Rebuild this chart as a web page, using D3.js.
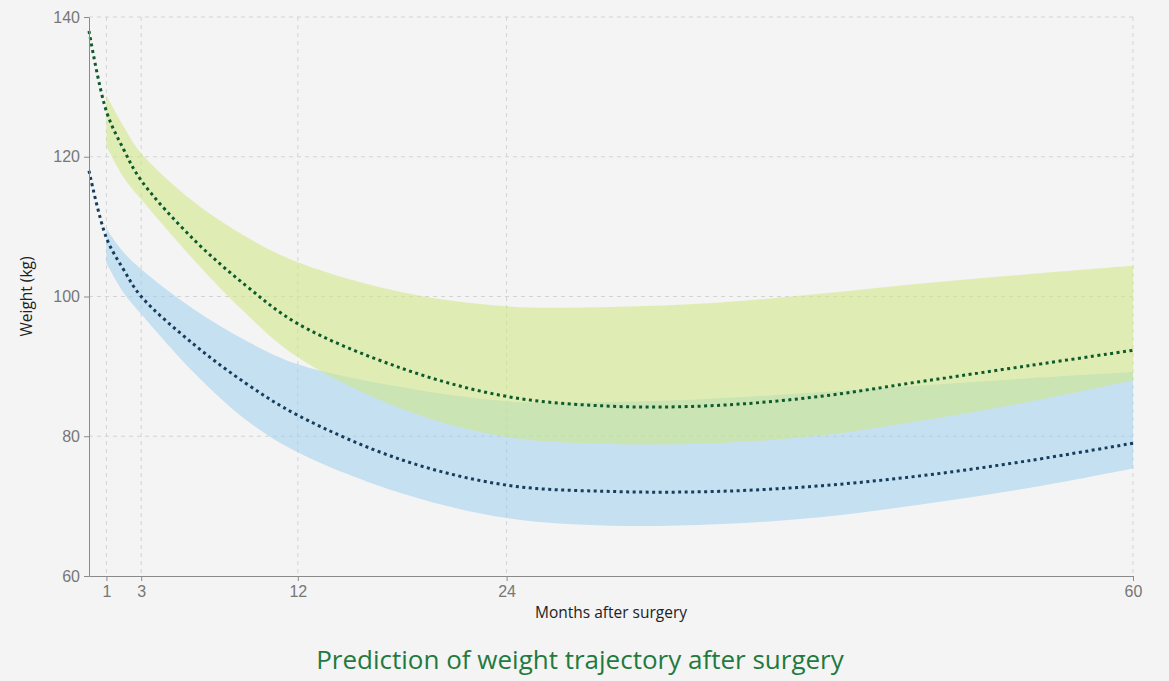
<!DOCTYPE html>
<html>
<head>
<meta charset="utf-8">
<script src="https://cdn.jsdelivr.net/npm/d3@7"></script>
<style>
  html, body { margin: 0; padding: 0; background: #f4f4f4; }
  svg { display: block; font-family: "Open Sans", "Noto Sans", sans-serif; }
  .grid line { stroke: #d4d4d4; stroke-dasharray: 4,4; }
  .axis path, .axis line { stroke: #8a8a8a; }
  .axis text { fill: #777; font-size: 16px; }
</style>
</head>
<body>
<div id="chart"></div>
<script>
// months shown on the x axis and the months where values are read
const tickMonths = [1, 3, 12, 24, 60]
const yTicks = [60, 80, 100, 120, 140]
const months = [0, 1, 2, 3, 6, 9, 12, 18, 24, 30, 36, 42, 48, 54, 60]

// predicted mean trajectories (dotted lines)
const greenMean = [138, 126.5, 121, 116.6, 108.2, 101.6, 96.1, 89.7, 85.7, 84.3, 84.4, 85.7, 87.9, 90.1, 92.3]
const blueMean  = [118, 108.4, 103.8, 100, 93.2, 87.6, 83, 76.6, 73.0, 72.1, 72.1, 72.9, 74.4, 76.5, 79.0]

// prediction bands, they start at month 1
const bandMonths = [1, 2, 3, 6, 9, 12, 18, 24, 30, 36, 42, 48, 54, 60]
const greenUpper = [128.8, 124.3, 120.5, 113.6, 108.6, 104.9, 100.6, 98.6, 98.5, 99.1, 100.4, 101.9, 103.2, 104.4]
const greenLower = [121.5, 117, 113.9, 105.3, 97.6, 91.3, 83.9, 79.9, 78.9, 79.0, 80.1, 82.3, 84.9, 88.0]
const blueUpper  = [109.7, 106.3, 103.9, 98.2, 93.7, 90.3, 87.0, 85.0, 84.9, 85.4, 86.3, 87.3, 88.3, 89.2]
const blueLower  = [104.8, 100.5, 97.5, 89.2, 82.4, 77.7, 71.8, 68.3, 67.2, 67.4, 68.4, 70.3, 72.6, 75.4]

const W = 1169, H = 681
const margin = { top: 17, right: 36, bottom: 105, left: 89 },
  width = W - margin.left - margin.right,
  height = H - margin.top - margin.bottom

const svg = d3.select("#chart").append("svg")
  .attr("width", W)
  .attr("height", H)

const g = svg.append("g")
  .attr("transform", "translate(" + margin.left + "," + margin.top + ")")

const x = d3.scaleLinear().domain([0, 60]).range([0, width])
const y = d3.scaleLinear().domain([60, 140]).range([height, 0])

/* grille pointillée */
g.append("g").attr("class", "grid")
  .selectAll("line.v").data(tickMonths).join("line")
  .attr("x1", d => x(d)).attr("x2", d => x(d))
  .attr("y1", 0).attr("y2", height)
g.append("g").attr("class", "grid")
  .selectAll("line.h").data(yTicks.slice(1)).join("line")
  .attr("x1", 0).attr("x2", width)
  .attr("y1", d => y(d)).attr("y2", d => y(d))

/* bandes */
const curve = d3.curveCatmullRom.alpha(0.5)
const band = (up, lo) => bandMonths.map((m, i) => ({ m, up: up[i], lo: lo[i] }))
const area = d3.area()
  .x(d => x(d.m))
  .y0(d => y(d.lo))
  .y1(d => y(d.up))
  .curve(curve)

g.append("path")
  .datum(band(blueUpper, blueLower))
  .attr("d", area)
  .attr("fill", "rgb(150,205,238)")
  .attr("fill-opacity", 0.5)

g.append("path")
  .datum(band(greenUpper, greenLower))
  .attr("d", area)
  .attr("fill", "rgb(205,232,130)")
  .attr("fill-opacity", 0.55)

/* courbes moyennes */
const line = d3.line()
  .x(d => x(d.m))
  .y(d => y(d.v))
  .curve(curve)

g.append("path")
  .datum(months.map((m, i) => ({ m, v: greenMean[i] })))
  .attr("d", line)
  .attr("fill", "none")
  .attr("stroke", "#0d5a2c")
  .attr("stroke-width", 3)
  .attr("stroke-dasharray", "3,3.5")

g.append("path")
  .datum(months.map((m, i) => ({ m, v: blueMean[i] })))
  .attr("d", line)
  .attr("fill", "none")
  .attr("stroke", "#173d5c")
  .attr("stroke-width", 3)
  .attr("stroke-dasharray", "3,3.5")

/* axes */
g.append("g")
  .attr("class", "axis")
  .attr("transform", "translate(0," + height + ")")
  .call(d3.axisBottom(x).tickValues(tickMonths).tickSize(5).tickSizeOuter(0))
  .selectAll("text").attr("dy", "0.8em")

g.append("g")
  .attr("class", "axis")
  .call(d3.axisLeft(y).tickValues(yTicks).tickSize(5).tickSizeOuter(0))
  .selectAll("text").attr("dx", "-1px")

/* titres */
svg.append("text")
  .attr("x", margin.left + x(30))
  .attr("y", 618)
  .attr("text-anchor", "middle")
  .style("font-size", "15.5px")
  .style("fill", "#222")
  .text("Months after surgery")

svg.append("text")
  .attr("transform", "translate(32," + (margin.top + y(100)) + ") rotate(-90)")
  .attr("text-anchor", "middle")
  .style("font-size", "15.5px")
  .style("fill", "#222")
  .text("Weight (kg)")

svg.append("text")
  .attr("x", 580)
  .attr("y", 669)
  .attr("text-anchor", "middle")
  .style("font-size", "26px")
  .style("fill", "#1f7a3f")
  .text("Prediction of weight trajectory after surgery")
</script>
</body>
</html>
